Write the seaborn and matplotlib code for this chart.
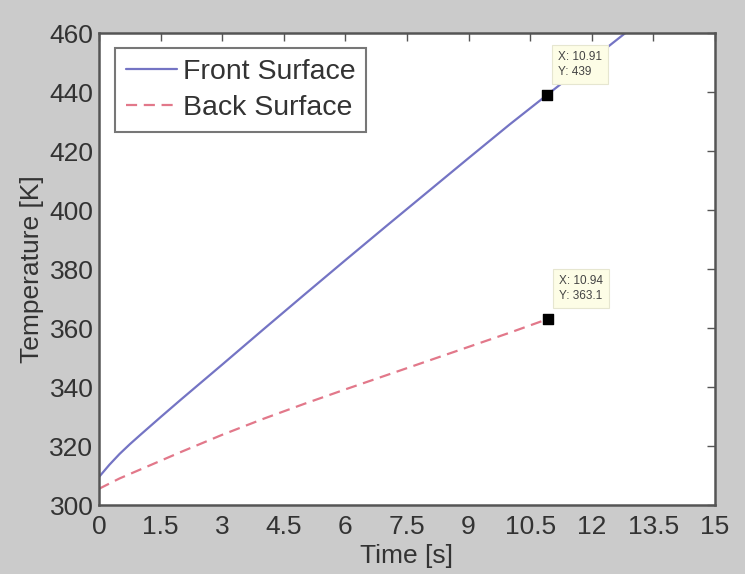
import matplotlib
matplotlib.use("Agg")
import matplotlib.pyplot as plt
import seaborn as sns
import pandas as pd

# values
front_t = [0, 0.25, 0.5, 0.75, 1, 1.5, 2, 3, 4, 5, 6, 7, 8, 9, 10, 10.91, 12, 13, 14, 15]
front_T = [309.5, 313.6, 317.3, 320.6, 323.7, 329.8, 335.8, 347.6, 359.5, 371.3, 383,
           394.6, 406.1, 417.6, 429, 439, 451, 462, 473, 484]
back_t = [0, 0.5, 1, 1.5, 2, 3, 4, 5, 6, 7, 8, 9, 10, 10.94]
back_T = [305.5, 309, 312, 315, 318, 323.8, 329.2, 334.3, 339.2, 344,
          348.8, 353.6, 358.4, 363.1]

tip_x = [10.91, 10.94]
tip_y = [439, 363.1]

x_ticks = [0, 1.5, 3, 4.5, 6, 7.5, 9, 10.5, 12, 13.5, 15]
y_ticks = [300, 320, 340, 360, 380, 400, 420, 440, 460]

df = pd.concat([
    pd.DataFrame({"Time": front_t, "Temp": front_T, "Series": "Front Surface"}),
    pd.DataFrame({"Time": back_t, "Temp": back_T, "Series": "Back Surface"}),
])

sns.set_style("white")
plt.rcParams["font.family"] = ["Liberation Sans", "DejaVu Sans"]

fig = plt.figure(figsize=(7.45, 5.74), dpi=100, facecolor="#cbcbcb")
ax = fig.add_axes([0.1329, 0.1202, 0.8268, 0.8223])

palette = {"Front Surface": "#7474c4", "Back Surface": "#e2788a"}
sns.lineplot(data=df, x="Time", y="Temp", hue="Series", style="Series",
             palette=palette, dashes={"Front Surface": "", "Back Surface": (5, 3)},
             linewidth=1.6, ax=ax, legend=True)

ax.set_xlim(0, 15)
ax.set_ylim(300, 460)
ax.set_xticks(x_ticks)
ax.set_xticklabels([f"{v:g}" for v in x_ticks])
ax.set_yticks(y_ticks)
ax.tick_params(direction="in", length=6, width=1, colors="#555555",
               labelcolor="#333333", labelsize=19, top=True, right=True, pad=4)
ax.tick_params(axis="x", pad=7.5)
for s in ax.spines.values():
    s.set_color("#555555")
    s.set_linewidth(1.8)
ax.set_xlabel("Time [s]", fontsize=19, color="#333333", labelpad=3)
ax.set_ylabel("Temperature [K]", fontsize=19, color="#333333", labelpad=4)

# data tips
ax.scatter(tip_x, tip_y, marker="s", s=45, color="black", zorder=5)
for x, y in zip(tip_x, tip_y):
    ax.annotate(f"X: {x:g}\nY: {y:g}", xy=(x, y), xytext=(8, 12),
                textcoords="offset points", fontsize=8.5, color="#444444",
                va="bottom", ha="left", linespacing=1.4,
                bbox=dict(boxstyle="square,pad=0.5", fc="#fdfde6", ec="#e6e6d0", lw=0.8))

leg = ax.legend(loc="upper left", fontsize=20.5, frameon=True, fancybox=False,
                handlelength=1.8, handletextpad=0.2, borderpad=0.38,
                labelspacing=0.35, borderaxespad=0, bbox_to_anchor=(0.026, 0.968))
leg.get_frame().set_edgecolor("#555555")
leg.get_frame().set_linewidth(1.5)
for t in leg.get_texts():
    t.set_color("#333333")

fig.savefig("out.png", dpi=100, facecolor=fig.get_facecolor())
